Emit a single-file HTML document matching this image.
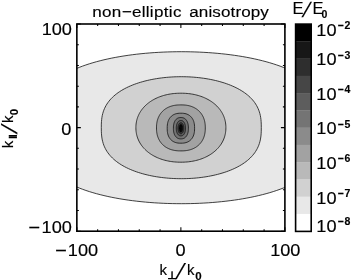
<!DOCTYPE html>
<html><head><meta charset="utf-8"><title>non-elliptic anisotropy</title>
<style>
html,body{margin:0;padding:0;background:#fff;}
body{width:352px;height:280px;overflow:hidden;}
svg{display:block;}
text{font-family:"Liberation Sans",sans-serif;fill:#000;stroke:#000;stroke-width:0.15px;}
.n{font-size:16.5px;}
.s{font-size:10.5px;font-weight:bold;}
.t{font-size:15.5px;}
.k{font-size:15px;}
.q{font-size:7.8px;font-family:"DejaVu Sans","Liberation Sans",sans-serif;stroke-width:0.5px;}
.z{font-size:11.5px;font-weight:bold;}
.p{font-size:10.5px;stroke-width:0.6px;font-family:"DejaVu Sans","Liberation Sans",sans-serif;}
</style></head><body>
<svg width="352" height="280" viewBox="0 0 352 280">
<rect width="352" height="280" fill="#fff"/>
<defs><clipPath id="c"><rect x="76.85" y="24.0" width="208.05" height="207.20"/></clipPath></defs>
<g clip-path="url(#c)" stroke="#111" stroke-width="0.8">
<path d="M325.60 127.70 L325.53 120.13 L325.32 115.69 L324.96 111.98 L324.46 108.67 L323.82 105.64 L323.04 102.81 L322.12 100.16 L321.07 97.64 L319.87 95.25 L318.54 92.96 L317.07 90.77 L315.47 88.66 L313.73 86.64 L311.87 84.69 L309.87 82.81 L307.75 80.99 L305.51 79.25 L303.14 77.56 L300.65 75.94 L298.04 74.37 L295.32 72.86 L292.49 71.41 L289.54 70.01 L286.49 68.67 L283.34 67.38 L280.08 66.14 L276.73 64.96 L273.28 63.82 L269.74 62.74 L266.12 61.71 L262.41 60.74 L258.62 59.81 L254.75 58.93 L250.82 58.10 L246.81 57.33 L242.74 56.60 L238.61 55.93 L234.42 55.30 L230.18 54.73 L225.89 54.20 L221.56 53.73 L217.19 53.30 L212.78 52.93 L208.34 52.60 L203.87 52.33 L199.39 52.10 L194.88 51.93 L190.36 51.80 L185.83 51.73 L181.30 51.70 L176.77 51.73 L172.24 51.80 L167.72 51.93 L163.21 52.10 L158.73 52.33 L154.26 52.60 L149.82 52.93 L145.41 53.30 L141.04 53.73 L136.71 54.20 L132.42 54.73 L128.18 55.30 L123.99 55.93 L119.86 56.60 L115.79 57.33 L111.78 58.10 L107.85 58.93 L103.98 59.81 L100.19 60.74 L96.48 61.71 L92.86 62.74 L89.32 63.82 L85.87 64.96 L82.52 66.14 L79.26 67.38 L76.11 68.67 L73.06 70.01 L70.11 71.41 L67.28 72.86 L64.56 74.37 L61.95 75.94 L59.46 77.56 L57.09 79.25 L54.85 80.99 L52.73 82.81 L50.73 84.69 L48.87 86.64 L47.13 88.66 L45.53 90.77 L44.06 92.96 L42.73 95.25 L41.53 97.64 L40.48 100.16 L39.56 102.81 L38.78 105.64 L38.14 108.67 L37.64 111.98 L37.28 115.69 L37.07 120.13 L37.00 127.70 L37.07 135.27 L37.28 139.71 L37.64 143.42 L38.14 146.73 L38.78 149.76 L39.56 152.59 L40.48 155.24 L41.53 157.76 L42.73 160.15 L44.06 162.44 L45.53 164.63 L47.13 166.74 L48.87 168.76 L50.73 170.71 L52.73 172.59 L54.85 174.41 L57.09 176.15 L59.46 177.84 L61.95 179.46 L64.56 181.03 L67.28 182.54 L70.11 183.99 L73.06 185.39 L76.11 186.73 L79.26 188.02 L82.52 189.26 L85.87 190.44 L89.32 191.58 L92.86 192.66 L96.48 193.69 L100.19 194.66 L103.98 195.59 L107.85 196.47 L111.78 197.30 L115.79 198.07 L119.86 198.80 L123.99 199.47 L128.18 200.10 L132.42 200.67 L136.71 201.20 L141.04 201.67 L145.41 202.10 L149.82 202.47 L154.26 202.80 L158.73 203.07 L163.21 203.30 L167.72 203.47 L172.24 203.60 L176.77 203.67 L181.30 203.70 L185.83 203.67 L190.36 203.60 L194.88 203.47 L199.39 203.30 L203.87 203.07 L208.34 202.80 L212.78 202.47 L217.19 202.10 L221.56 201.67 L225.89 201.20 L230.18 200.67 L234.42 200.10 L238.61 199.47 L242.74 198.80 L246.81 198.07 L250.82 197.30 L254.75 196.47 L258.62 195.59 L262.41 194.66 L266.12 193.69 L269.74 192.66 L273.28 191.58 L276.73 190.44 L280.08 189.26 L283.34 188.02 L286.49 186.73 L289.54 185.39 L292.49 183.99 L295.32 182.54 L298.04 181.03 L300.65 179.46 L303.14 177.84 L305.51 176.15 L307.75 174.41 L309.87 172.59 L311.87 170.71 L313.73 168.76 L315.47 166.74 L317.07 164.63 L318.54 162.44 L319.87 160.15 L321.07 157.76 L322.12 155.24 L323.04 152.59 L323.82 149.76 L324.46 146.73 L324.96 143.42 L325.32 139.71 L325.53 135.27Z" fill="rgb(232,232,232)"/>
<path d="M261.30 127.70 L261.26 124.14 L261.14 121.63 L260.94 119.42 L260.67 117.38 L260.32 115.46 L259.88 113.64 L259.37 111.89 L258.79 110.21 L258.12 108.60 L257.38 107.03 L256.57 105.52 L255.68 104.06 L254.72 102.63 L253.69 101.26 L252.58 99.92 L251.40 98.62 L250.16 97.36 L248.85 96.14 L247.47 94.96 L246.02 93.81 L244.51 92.70 L242.94 91.63 L241.31 90.60 L239.62 89.60 L237.87 88.63 L236.06 87.71 L234.20 86.82 L232.29 85.97 L230.33 85.15 L228.32 84.37 L226.27 83.63 L224.17 82.92 L222.02 82.26 L219.84 81.63 L217.62 81.03 L215.36 80.48 L213.07 79.96 L210.75 79.48 L208.40 79.04 L206.02 78.63 L203.62 78.26 L201.20 77.94 L198.75 77.65 L196.29 77.40 L193.81 77.18 L191.33 77.01 L188.83 76.87 L186.32 76.78 L183.81 76.72 L181.30 76.70 L178.79 76.72 L176.28 76.78 L173.77 76.87 L171.27 77.01 L168.79 77.18 L166.31 77.40 L163.85 77.65 L161.40 77.94 L158.98 78.26 L156.58 78.63 L154.20 79.04 L151.85 79.48 L149.53 79.96 L147.24 80.48 L144.98 81.03 L142.76 81.63 L140.58 82.26 L138.43 82.92 L136.33 83.63 L134.28 84.37 L132.27 85.15 L130.31 85.97 L128.40 86.82 L126.54 87.71 L124.73 88.63 L122.98 89.60 L121.29 90.60 L119.66 91.63 L118.09 92.70 L116.58 93.81 L115.13 94.96 L113.75 96.14 L112.44 97.36 L111.20 98.62 L110.02 99.92 L108.91 101.26 L107.88 102.63 L106.92 104.06 L106.03 105.52 L105.22 107.03 L104.48 108.60 L103.81 110.21 L103.23 111.89 L102.72 113.64 L102.28 115.46 L101.93 117.38 L101.66 119.42 L101.46 121.63 L101.34 124.14 L101.30 127.70 L101.34 131.26 L101.46 133.77 L101.66 135.98 L101.93 138.02 L102.28 139.94 L102.72 141.76 L103.23 143.51 L103.81 145.19 L104.48 146.80 L105.22 148.37 L106.03 149.88 L106.92 151.34 L107.88 152.77 L108.91 154.14 L110.02 155.48 L111.20 156.78 L112.44 158.04 L113.75 159.26 L115.13 160.44 L116.58 161.59 L118.09 162.70 L119.66 163.77 L121.29 164.80 L122.98 165.80 L124.73 166.77 L126.54 167.69 L128.40 168.58 L130.31 169.43 L132.27 170.25 L134.28 171.03 L136.33 171.77 L138.43 172.48 L140.58 173.14 L142.76 173.77 L144.98 174.37 L147.24 174.92 L149.53 175.44 L151.85 175.92 L154.20 176.36 L156.58 176.77 L158.98 177.14 L161.40 177.46 L163.85 177.75 L166.31 178.00 L168.79 178.22 L171.27 178.39 L173.77 178.53 L176.28 178.62 L178.79 178.68 L181.30 178.70 L183.81 178.68 L186.32 178.62 L188.83 178.53 L191.33 178.39 L193.81 178.22 L196.29 178.00 L198.75 177.75 L201.20 177.46 L203.62 177.14 L206.02 176.77 L208.40 176.36 L210.75 175.92 L213.07 175.44 L215.36 174.92 L217.62 174.37 L219.84 173.77 L222.02 173.14 L224.17 172.48 L226.27 171.77 L228.32 171.03 L230.33 170.25 L232.29 169.43 L234.20 168.58 L236.06 167.69 L237.87 166.77 L239.62 165.80 L241.31 164.80 L242.94 163.77 L244.51 162.70 L246.02 161.59 L247.47 160.44 L248.85 159.26 L250.16 158.04 L251.40 156.78 L252.58 155.48 L253.69 154.14 L254.72 152.77 L255.68 151.34 L256.57 149.88 L257.38 148.37 L258.12 146.80 L258.79 145.19 L259.37 143.51 L259.88 141.76 L260.32 139.94 L260.67 138.02 L260.94 135.98 L261.14 133.77 L261.26 131.26Z" fill="rgb(209,209,209)"/>
<path d="M225.90 127.70 L225.88 126.42 L225.82 125.23 L225.71 124.07 L225.56 122.93 L225.37 121.80 L225.14 120.70 L224.87 119.61 L224.55 118.53 L224.20 117.47 L223.80 116.43 L223.36 115.40 L222.89 114.38 L222.37 113.38 L221.81 112.40 L221.22 111.44 L220.58 110.49 L219.91 109.56 L219.20 108.66 L218.46 107.77 L217.68 106.90 L216.86 106.06 L216.01 105.23 L215.12 104.43 L214.20 103.65 L213.25 102.90 L212.27 102.17 L211.25 101.46 L210.21 100.79 L209.13 100.13 L208.03 99.51 L206.90 98.91 L205.74 98.34 L204.56 97.79 L203.35 97.28 L202.11 96.79 L200.86 96.33 L199.58 95.91 L198.27 95.51 L196.95 95.15 L195.61 94.81 L194.24 94.51 L192.86 94.23 L191.45 93.99 L190.03 93.78 L188.59 93.60 L187.13 93.46 L185.64 93.35 L184.12 93.26 L182.57 93.22 L180.90 93.20 L179.23 93.22 L177.68 93.26 L176.16 93.35 L174.67 93.46 L173.21 93.60 L171.77 93.78 L170.35 93.99 L168.94 94.23 L167.56 94.51 L166.19 94.81 L164.85 95.15 L163.53 95.51 L162.22 95.91 L160.94 96.33 L159.69 96.79 L158.45 97.28 L157.24 97.79 L156.06 98.34 L154.90 98.91 L153.77 99.51 L152.67 100.13 L151.59 100.79 L150.55 101.46 L149.53 102.17 L148.55 102.90 L147.60 103.65 L146.68 104.43 L145.79 105.23 L144.94 106.06 L144.12 106.90 L143.34 107.77 L142.60 108.66 L141.89 109.56 L141.22 110.49 L140.58 111.44 L139.99 112.40 L139.43 113.38 L138.91 114.38 L138.44 115.40 L138.00 116.43 L137.60 117.47 L137.25 118.53 L136.93 119.61 L136.66 120.70 L136.43 121.80 L136.24 122.93 L136.09 124.07 L135.98 125.23 L135.92 126.42 L135.90 127.70 L135.92 128.98 L135.98 130.17 L136.09 131.33 L136.24 132.47 L136.43 133.60 L136.66 134.70 L136.93 135.79 L137.25 136.87 L137.60 137.93 L138.00 138.97 L138.44 140.00 L138.91 141.02 L139.43 142.02 L139.99 143.00 L140.58 143.96 L141.22 144.91 L141.89 145.84 L142.60 146.74 L143.34 147.63 L144.12 148.50 L144.94 149.34 L145.79 150.17 L146.68 150.97 L147.60 151.75 L148.55 152.50 L149.53 153.23 L150.55 153.94 L151.59 154.61 L152.67 155.27 L153.77 155.89 L154.90 156.49 L156.06 157.06 L157.24 157.61 L158.45 158.12 L159.69 158.61 L160.94 159.07 L162.22 159.49 L163.53 159.89 L164.85 160.25 L166.19 160.59 L167.56 160.89 L168.94 161.17 L170.35 161.41 L171.77 161.62 L173.21 161.80 L174.67 161.94 L176.16 162.05 L177.68 162.14 L179.23 162.18 L180.90 162.20 L182.57 162.18 L184.12 162.14 L185.64 162.05 L187.13 161.94 L188.59 161.80 L190.03 161.62 L191.45 161.41 L192.86 161.17 L194.24 160.89 L195.61 160.59 L196.95 160.25 L198.27 159.89 L199.58 159.49 L200.86 159.07 L202.11 158.61 L203.35 158.12 L204.56 157.61 L205.74 157.06 L206.90 156.49 L208.03 155.89 L209.13 155.27 L210.21 154.61 L211.25 153.94 L212.27 153.23 L213.25 152.50 L214.20 151.75 L215.12 150.97 L216.01 150.17 L216.86 149.34 L217.68 148.50 L218.46 147.63 L219.20 146.74 L219.91 145.84 L220.58 144.91 L221.22 143.96 L221.81 143.00 L222.37 142.02 L222.89 141.02 L223.36 140.00 L223.80 138.97 L224.20 137.93 L224.55 136.87 L224.87 135.79 L225.14 134.70 L225.37 133.60 L225.56 132.47 L225.71 131.33 L225.82 130.17 L225.88 128.98Z" fill="rgb(185,185,185)"/>
<path d="M205.30 127.90 L205.29 126.84 L205.26 125.94 L205.21 125.09 L205.13 124.27 L205.04 123.48 L204.92 122.71 L204.79 121.96 L204.63 121.22 L204.46 120.51 L204.26 119.80 L204.04 119.11 L203.80 118.44 L203.55 117.78 L203.27 117.13 L202.97 116.50 L202.65 115.88 L202.32 115.28 L201.96 114.69 L201.59 114.12 L201.19 113.56 L200.78 113.02 L200.35 112.49 L199.90 111.97 L199.44 111.48 L198.95 111.00 L198.45 110.53 L197.93 110.09 L197.39 109.66 L196.84 109.24 L196.27 108.85 L195.69 108.47 L195.08 108.11 L194.46 107.77 L193.83 107.45 L193.18 107.14 L192.51 106.86 L191.83 106.59 L191.13 106.34 L190.42 106.11 L189.69 105.90 L188.94 105.71 L188.18 105.54 L187.39 105.39 L186.59 105.26 L185.76 105.15 L184.91 105.06 L184.03 104.99 L183.10 104.94 L182.10 104.91 L180.90 104.90 L179.70 104.91 L178.70 104.94 L177.77 104.99 L176.89 105.06 L176.04 105.15 L175.21 105.26 L174.41 105.39 L173.62 105.54 L172.86 105.71 L172.11 105.90 L171.38 106.11 L170.67 106.34 L169.97 106.59 L169.29 106.86 L168.62 107.14 L167.97 107.45 L167.34 107.77 L166.72 108.11 L166.11 108.47 L165.53 108.85 L164.96 109.24 L164.41 109.66 L163.87 110.09 L163.35 110.53 L162.85 111.00 L162.36 111.48 L161.90 111.97 L161.45 112.49 L161.02 113.02 L160.61 113.56 L160.21 114.12 L159.84 114.69 L159.48 115.28 L159.15 115.88 L158.83 116.50 L158.53 117.13 L158.25 117.78 L158.00 118.44 L157.76 119.11 L157.54 119.80 L157.34 120.51 L157.17 121.22 L157.01 121.96 L156.88 122.71 L156.76 123.48 L156.67 124.27 L156.59 125.09 L156.54 125.94 L156.51 126.84 L156.50 127.90 L156.51 128.96 L156.54 129.86 L156.59 130.71 L156.67 131.53 L156.76 132.32 L156.88 133.09 L157.01 133.84 L157.17 134.58 L157.34 135.29 L157.54 136.00 L157.76 136.69 L158.00 137.36 L158.25 138.02 L158.53 138.67 L158.83 139.30 L159.15 139.92 L159.48 140.52 L159.84 141.11 L160.21 141.68 L160.61 142.24 L161.02 142.78 L161.45 143.31 L161.90 143.83 L162.36 144.32 L162.85 144.80 L163.35 145.27 L163.87 145.71 L164.41 146.14 L164.96 146.56 L165.53 146.95 L166.11 147.33 L166.72 147.69 L167.34 148.03 L167.97 148.35 L168.62 148.66 L169.29 148.94 L169.97 149.21 L170.67 149.46 L171.38 149.69 L172.11 149.90 L172.86 150.09 L173.62 150.26 L174.41 150.41 L175.21 150.54 L176.04 150.65 L176.89 150.74 L177.77 150.81 L178.70 150.86 L179.70 150.89 L180.90 150.90 L182.10 150.89 L183.10 150.86 L184.03 150.81 L184.91 150.74 L185.76 150.65 L186.59 150.54 L187.39 150.41 L188.18 150.26 L188.94 150.09 L189.69 149.90 L190.42 149.69 L191.13 149.46 L191.83 149.21 L192.51 148.94 L193.18 148.66 L193.83 148.35 L194.46 148.03 L195.08 147.69 L195.69 147.33 L196.27 146.95 L196.84 146.56 L197.39 146.14 L197.93 145.71 L198.45 145.27 L198.95 144.80 L199.44 144.32 L199.90 143.83 L200.35 143.31 L200.78 142.78 L201.19 142.24 L201.59 141.68 L201.96 141.11 L202.32 140.52 L202.65 139.92 L202.97 139.30 L203.27 138.67 L203.55 138.02 L203.80 137.36 L204.04 136.69 L204.26 136.00 L204.46 135.29 L204.63 134.58 L204.79 133.84 L204.92 133.09 L205.04 132.32 L205.13 131.53 L205.21 130.71 L205.26 129.86 L205.29 128.96Z" fill="rgb(162,162,162)"/>
<path d="M194.60 128.20 L194.56 126.40 L194.46 125.00 L194.28 123.74 L194.04 122.56 L193.73 121.46 L193.34 120.43 L192.90 119.47 L192.38 118.57 L191.80 117.73 L191.16 116.96 L190.46 116.26 L189.70 115.63 L188.88 115.07 L187.99 114.58 L187.05 114.16 L186.05 113.81 L184.98 113.55 L183.82 113.35 L182.54 113.24 L180.90 113.20 L179.26 113.24 L177.98 113.35 L176.82 113.55 L175.75 113.81 L174.75 114.16 L173.81 114.58 L172.92 115.07 L172.10 115.63 L171.34 116.26 L170.64 116.96 L170.00 117.73 L169.42 118.57 L168.90 119.47 L168.46 120.43 L168.07 121.46 L167.76 122.56 L167.52 123.74 L167.34 125.00 L167.24 126.40 L167.20 128.20 L167.24 130.00 L167.34 131.40 L167.52 132.66 L167.76 133.84 L168.07 134.94 L168.46 135.97 L168.90 136.93 L169.42 137.83 L170.00 138.67 L170.64 139.44 L171.34 140.14 L172.10 140.77 L172.92 141.33 L173.81 141.82 L174.75 142.24 L175.75 142.59 L176.82 142.85 L177.98 143.05 L179.26 143.16 L180.90 143.20 L182.54 143.16 L183.82 143.05 L184.98 142.85 L186.05 142.59 L187.05 142.24 L187.99 141.82 L188.88 141.33 L189.70 140.77 L190.46 140.14 L191.16 139.44 L191.80 138.67 L192.38 137.83 L192.90 136.93 L193.34 135.97 L193.73 134.94 L194.04 133.84 L194.28 132.66 L194.46 131.40 L194.56 130.00Z" fill="rgb(139,139,139)"/>
<path d="M188.40 128.20 L188.38 127.03 L188.32 126.07 L188.22 125.18 L188.08 124.35 L187.90 123.56 L187.68 122.82 L187.43 122.12 L187.14 121.46 L186.81 120.85 L186.45 120.28 L186.05 119.77 L185.62 119.30 L185.16 118.89 L184.67 118.52 L184.15 118.21 L183.60 117.96 L183.02 117.76 L182.39 117.61 L181.72 117.53 L180.90 117.50 L180.08 117.53 L179.41 117.61 L178.78 117.76 L178.20 117.96 L177.65 118.21 L177.13 118.52 L176.64 118.89 L176.18 119.30 L175.75 119.77 L175.35 120.28 L174.99 120.85 L174.66 121.46 L174.37 122.12 L174.12 122.82 L173.90 123.56 L173.72 124.35 L173.58 125.18 L173.48 126.07 L173.42 127.03 L173.40 128.20 L173.42 129.37 L173.48 130.33 L173.58 131.22 L173.72 132.05 L173.90 132.84 L174.12 133.58 L174.37 134.28 L174.66 134.94 L174.99 135.55 L175.35 136.12 L175.75 136.63 L176.18 137.10 L176.64 137.51 L177.13 137.88 L177.65 138.19 L178.20 138.44 L178.78 138.64 L179.41 138.79 L180.08 138.87 L180.90 138.90 L181.72 138.87 L182.39 138.79 L183.02 138.64 L183.60 138.44 L184.15 138.19 L184.67 137.88 L185.16 137.51 L185.62 137.10 L186.05 136.63 L186.45 136.12 L186.81 135.55 L187.14 134.94 L187.43 134.28 L187.68 133.58 L187.90 132.84 L188.08 132.05 L188.22 131.22 L188.32 130.33 L188.38 129.37Z" fill="rgb(116,116,116)"/>
<path d="M185.50 128.20 L185.49 127.44 L185.45 126.77 L185.38 126.15 L185.29 125.55 L185.18 124.98 L185.04 124.44 L184.88 123.93 L184.69 123.45 L184.49 123.00 L184.26 122.58 L184.01 122.20 L183.74 121.85 L183.45 121.54 L183.14 121.27 L182.82 121.03 L182.48 120.84 L182.13 120.69 L181.75 120.59 L181.35 120.52 L180.90 120.50 L180.45 120.52 L180.05 120.59 L179.67 120.69 L179.32 120.84 L178.98 121.03 L178.66 121.27 L178.35 121.54 L178.06 121.85 L177.79 122.20 L177.54 122.58 L177.31 123.00 L177.11 123.45 L176.92 123.93 L176.76 124.44 L176.62 124.98 L176.51 125.55 L176.42 126.15 L176.35 126.77 L176.31 127.44 L176.30 128.20 L176.31 128.96 L176.35 129.63 L176.42 130.25 L176.51 130.85 L176.62 131.42 L176.76 131.96 L176.92 132.47 L177.11 132.95 L177.31 133.40 L177.54 133.82 L177.79 134.20 L178.06 134.55 L178.35 134.86 L178.66 135.13 L178.98 135.37 L179.32 135.56 L179.67 135.71 L180.05 135.81 L180.45 135.88 L180.90 135.90 L181.35 135.88 L181.75 135.81 L182.13 135.71 L182.48 135.56 L182.82 135.37 L183.14 135.13 L183.45 134.86 L183.74 134.55 L184.01 134.20 L184.26 133.82 L184.49 133.40 L184.69 132.95 L184.88 132.47 L185.04 131.96 L185.18 131.42 L185.29 130.85 L185.38 130.25 L185.45 129.63 L185.49 128.96Z" fill="rgb(93,93,93)"/>
<path d="M183.85 128.20 L183.84 127.77 L183.81 127.34 L183.77 126.92 L183.71 126.50 L183.63 126.10 L183.53 125.70 L183.42 125.33 L183.29 124.97 L183.14 124.63 L182.99 124.31 L182.82 124.02 L182.63 123.75 L182.44 123.51 L182.24 123.30 L182.03 123.12 L181.81 122.97 L181.59 122.85 L181.36 122.77 L181.13 122.72 L180.90 122.70 L180.67 122.72 L180.44 122.77 L180.21 122.85 L179.99 122.97 L179.77 123.12 L179.56 123.30 L179.36 123.51 L179.17 123.75 L178.98 124.02 L178.81 124.31 L178.66 124.63 L178.51 124.97 L178.38 125.33 L178.27 125.70 L178.17 126.10 L178.09 126.50 L178.03 126.92 L177.99 127.34 L177.96 127.77 L177.95 128.20 L177.96 128.63 L177.99 129.06 L178.03 129.48 L178.09 129.90 L178.17 130.30 L178.27 130.70 L178.38 131.07 L178.51 131.43 L178.66 131.77 L178.81 132.09 L178.98 132.38 L179.17 132.65 L179.36 132.89 L179.56 133.10 L179.77 133.28 L179.99 133.43 L180.21 133.55 L180.44 133.63 L180.67 133.68 L180.90 133.70 L181.13 133.68 L181.36 133.63 L181.59 133.55 L181.81 133.43 L182.03 133.28 L182.24 133.10 L182.44 132.89 L182.63 132.65 L182.82 132.38 L182.99 132.09 L183.14 131.77 L183.29 131.43 L183.42 131.07 L183.53 130.70 L183.63 130.30 L183.71 129.90 L183.77 129.48 L183.81 129.06 L183.84 128.63Z" fill="rgb(70,70,70)"/>
<path d="M182.75 128.20 L182.74 127.89 L182.73 127.57 L182.70 127.27 L182.66 126.96 L182.61 126.67 L182.55 126.38 L182.48 126.11 L182.40 125.85 L182.31 125.60 L182.21 125.37 L182.10 125.16 L181.99 124.96 L181.87 124.79 L181.74 124.64 L181.61 124.50 L181.47 124.40 L181.33 124.31 L181.19 124.25 L181.05 124.21 L180.90 124.20 L180.75 124.21 L180.61 124.25 L180.47 124.31 L180.33 124.40 L180.19 124.50 L180.06 124.64 L179.93 124.79 L179.81 124.96 L179.70 125.16 L179.59 125.37 L179.49 125.60 L179.40 125.85 L179.32 126.11 L179.25 126.38 L179.19 126.67 L179.14 126.96 L179.10 127.27 L179.07 127.57 L179.06 127.89 L179.05 128.20 L179.06 128.51 L179.07 128.83 L179.10 129.13 L179.14 129.44 L179.19 129.73 L179.25 130.02 L179.32 130.29 L179.40 130.55 L179.49 130.80 L179.59 131.03 L179.70 131.24 L179.81 131.44 L179.93 131.61 L180.06 131.76 L180.19 131.90 L180.33 132.00 L180.47 132.09 L180.61 132.15 L180.75 132.19 L180.90 132.20 L181.05 132.19 L181.19 132.15 L181.33 132.09 L181.47 132.00 L181.61 131.90 L181.74 131.76 L181.87 131.61 L181.99 131.44 L182.10 131.24 L182.21 131.03 L182.31 130.80 L182.40 130.55 L182.48 130.29 L182.55 130.02 L182.61 129.73 L182.66 129.44 L182.70 129.13 L182.73 128.83 L182.74 128.51Z" fill="rgb(8,8,8)"/>
<path d="M181.90 128.20 L181.90 127.99 L181.89 127.78 L181.87 127.57 L181.85 127.37 L181.82 127.17 L181.79 126.97 L181.75 126.79 L181.71 126.61 L181.66 126.45 L181.61 126.29 L181.55 126.15 L181.49 126.02 L181.42 125.90 L181.35 125.79 L181.28 125.71 L181.21 125.63 L181.13 125.57 L181.06 125.53 L180.98 125.51 L180.90 125.50 L180.82 125.51 L180.74 125.53 L180.67 125.57 L180.59 125.63 L180.52 125.71 L180.45 125.79 L180.38 125.90 L180.31 126.02 L180.25 126.15 L180.19 126.29 L180.14 126.45 L180.09 126.61 L180.05 126.79 L180.01 126.97 L179.98 127.17 L179.95 127.37 L179.93 127.57 L179.91 127.78 L179.90 127.99 L179.90 128.20 L179.90 128.41 L179.91 128.62 L179.93 128.83 L179.95 129.03 L179.98 129.23 L180.01 129.43 L180.05 129.61 L180.09 129.79 L180.14 129.95 L180.19 130.11 L180.25 130.25 L180.31 130.38 L180.38 130.50 L180.45 130.61 L180.52 130.69 L180.59 130.77 L180.67 130.83 L180.74 130.87 L180.82 130.89 L180.90 130.90 L180.98 130.89 L181.06 130.87 L181.13 130.83 L181.21 130.77 L181.28 130.69 L181.35 130.61 L181.42 130.50 L181.49 130.38 L181.55 130.25 L181.61 130.11 L181.66 129.95 L181.71 129.79 L181.75 129.61 L181.79 129.43 L181.82 129.23 L181.85 129.03 L181.87 128.83 L181.89 128.62 L181.90 128.41Z" fill="rgb(0,0,0)"/>
<path d="M181.50 128.20 L181.50 128.05 L181.49 127.90 L181.48 127.76 L181.47 127.61 L181.45 127.47 L181.43 127.34 L181.41 127.21 L181.39 127.08 L181.36 126.97 L181.32 126.86 L181.29 126.76 L181.25 126.66 L181.21 126.58 L181.17 126.51 L181.13 126.44 L181.09 126.39 L181.04 126.35 L180.99 126.32 L180.95 126.31 L180.90 126.30 L180.85 126.31 L180.81 126.32 L180.76 126.35 L180.71 126.39 L180.67 126.44 L180.63 126.51 L180.59 126.58 L180.55 126.66 L180.51 126.76 L180.48 126.86 L180.44 126.97 L180.41 127.08 L180.39 127.21 L180.37 127.34 L180.35 127.47 L180.33 127.61 L180.32 127.76 L180.31 127.90 L180.30 128.05 L180.30 128.20 L180.30 128.35 L180.31 128.50 L180.32 128.64 L180.33 128.79 L180.35 128.93 L180.37 129.06 L180.39 129.19 L180.41 129.32 L180.44 129.43 L180.48 129.54 L180.51 129.64 L180.55 129.74 L180.59 129.82 L180.63 129.89 L180.67 129.96 L180.71 130.01 L180.76 130.05 L180.81 130.08 L180.85 130.09 L180.90 130.10 L180.95 130.09 L180.99 130.08 L181.04 130.05 L181.09 130.01 L181.13 129.96 L181.17 129.89 L181.21 129.82 L181.25 129.74 L181.29 129.64 L181.32 129.54 L181.36 129.43 L181.39 129.32 L181.41 129.19 L181.43 129.06 L181.45 128.93 L181.47 128.79 L181.48 128.64 L181.49 128.50 L181.50 128.35Z" fill="rgb(0,0,0)"/>
</g>
<rect x="76.85" y="24.0" width="208.05" height="207.20" fill="none" stroke="#000" stroke-width="1.6"/>
<path d="M76.85 231.20 v-4.00 M76.85 24.00 v4.00 M76.85 24.00 h4.00 M284.90 24.00 h-4.00 M97.66 231.20 v-2.00 M97.66 24.00 v2.00 M76.85 44.72 h2.00 M284.90 44.72 h-2.00 M118.46 231.20 v-2.00 M118.46 24.00 v2.00 M76.85 65.44 h2.00 M284.90 65.44 h-2.00 M139.26 231.20 v-2.00 M139.26 24.00 v2.00 M76.85 86.16 h2.00 M284.90 86.16 h-2.00 M160.07 231.20 v-2.00 M160.07 24.00 v2.00 M76.85 106.88 h2.00 M284.90 106.88 h-2.00 M180.88 231.20 v-4.00 M180.88 24.00 v4.00 M76.85 127.60 h4.00 M284.90 127.60 h-4.00 M201.68 231.20 v-2.00 M201.68 24.00 v2.00 M76.85 148.32 h2.00 M284.90 148.32 h-2.00 M222.48 231.20 v-2.00 M222.48 24.00 v2.00 M76.85 169.04 h2.00 M284.90 169.04 h-2.00 M243.29 231.20 v-2.00 M243.29 24.00 v2.00 M76.85 189.76 h2.00 M284.90 189.76 h-2.00 M264.09 231.20 v-2.00 M264.09 24.00 v2.00 M76.85 210.48 h2.00 M284.90 210.48 h-2.00 M284.90 231.20 v-4.00 M284.90 24.00 v4.00 M76.85 231.20 h4.00 M284.90 231.20 h-4.00" stroke="#000" stroke-width="1.05" fill="none"/>
<rect x="295.60" y="24.00" width="15.60" height="17.57" fill="rgb(0,0,0)"/>
<rect x="295.60" y="41.27" width="15.60" height="17.57" fill="rgb(23,23,23)"/>
<rect x="295.60" y="58.53" width="15.60" height="17.57" fill="rgb(46,46,46)"/>
<rect x="295.60" y="75.80" width="15.60" height="17.57" fill="rgb(70,70,70)"/>
<rect x="295.60" y="93.07" width="15.60" height="17.57" fill="rgb(93,93,93)"/>
<rect x="295.60" y="110.33" width="15.60" height="17.57" fill="rgb(116,116,116)"/>
<rect x="295.60" y="127.60" width="15.60" height="17.57" fill="rgb(139,139,139)"/>
<rect x="295.60" y="144.87" width="15.60" height="17.57" fill="rgb(162,162,162)"/>
<rect x="295.60" y="162.13" width="15.60" height="17.57" fill="rgb(185,185,185)"/>
<rect x="295.60" y="179.40" width="15.60" height="17.57" fill="rgb(209,209,209)"/>
<rect x="295.60" y="196.67" width="15.60" height="17.57" fill="rgb(232,232,232)"/>
<rect x="295.60" y="213.93" width="15.60" height="17.57" fill="rgb(255,255,255)"/>
<rect x="295.60" y="24.10" width="15.60" height="207.30" fill="none" stroke="#000" stroke-width="1.6"/>
<text transform="translate(316.3,35.5) scale(1.1,1)" class="n">10</text><text x="337.4" y="28.8" class="s" style="letter-spacing:0.9px">−2</text>
<text transform="translate(316.3,65.4) scale(1.1,1)" class="n">10</text><text x="337.4" y="58.7" class="s" style="letter-spacing:0.9px">−3</text>
<text transform="translate(316.3,99.7) scale(1.1,1)" class="n">10</text><text x="337.4" y="93.0" class="s" style="letter-spacing:0.9px">−4</text>
<text transform="translate(316.3,134.3) scale(1.1,1)" class="n">10</text><text x="337.4" y="127.6" class="s" style="letter-spacing:0.9px">−5</text>
<text transform="translate(316.3,169.1) scale(1.1,1)" class="n">10</text><text x="337.4" y="162.4" class="s" style="letter-spacing:0.9px">−6</text>
<text transform="translate(316.3,203.8) scale(1.1,1)" class="n">10</text><text x="337.4" y="197.1" class="s" style="letter-spacing:0.9px">−7</text>
<text transform="translate(316.3,232.0) scale(1.1,1)" class="n">10</text><text x="337.4" y="225.3" class="s" style="letter-spacing:0.9px">−8</text>
<text transform="translate(92.3,16.8) scale(1.1,1)" class="t" textLength="81" lengthAdjust="spacing">non−elliptic</text><text transform="translate(189.3,16.8) scale(1.1,1)" class="t" textLength="72.3" lengthAdjust="spacing">anisotropy</text>
<text x="292.6" y="14.4" class="n">E</text><text transform="translate(301.6,17.2) skewX(-17)" class="n" style="font-size:21px">/</text><text x="312.4" y="14.4" class="n">E</text><text x="321.6" y="18" class="s">0</text>
<text transform="translate(41.70,35.40) scale(1.1,1)" class="n">100</text>
<text transform="translate(61.20,134.80) scale(1.1,1)" class="n">0</text>
<text transform="translate(28.30,232.50) scale(1.22,1)" class="n">−</text>
<text transform="translate(41.60,232.50) scale(1.1,1)" class="n">100</text>
<text transform="translate(55.00,255.50) scale(1.22,1)" class="n">−</text>
<text transform="translate(67.80,255.50) scale(1.1,1)" class="n">100</text>
<text transform="translate(175.50,255.50) scale(1.1,1)" class="n">0</text>
<text transform="translate(270.20,255.50) scale(1.1,1)" class="n">100</text>
<text x="159.6" y="275.2" class="k">k</text><text x="167.6" y="279.0" class="p">⊥</text><text transform="translate(174.9,279.2) skewX(-17)" class="n" style="font-size:22px">/</text><text x="187.1" y="275.2" class="k">k</text><text x="195.2" y="279.8" class="z">0</text>
<g transform="translate(13.2,148) rotate(-90)">
<text x="-0.2" y="0" class="k">k</text><text transform="translate(8.6,2.0) scale(1.45,1)" class="q">∥</text><text transform="translate(13.7,3.9) skewX(-17)" class="n" style="font-size:22px">/</text><text x="24.9" y="0" class="k">k</text><text x="32.8" y="4.5" class="z">0</text>
</g>
</svg>
</body></html>
